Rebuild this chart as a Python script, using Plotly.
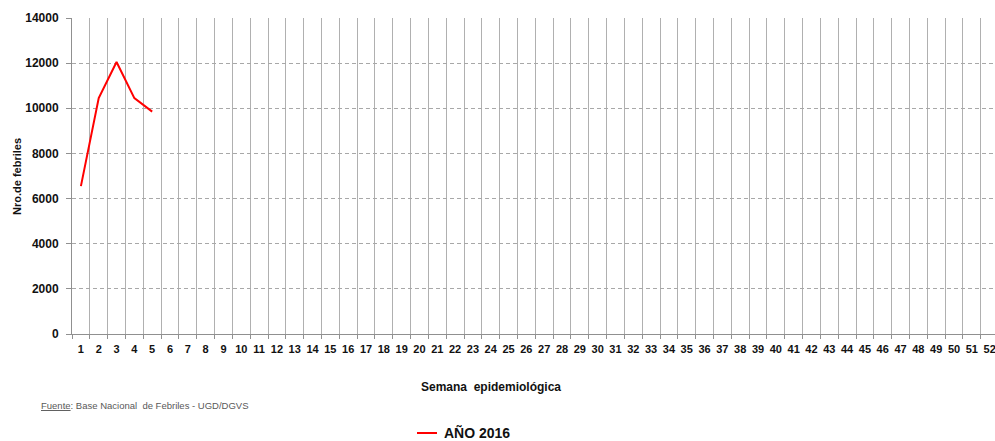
import plotly.graph_objects as go

# Semanas epidemiológicas 1..52 y casos febriles notificados (año 2016)
semanas = [str(i) for i in range(1, 53)]
semanas_con_dato = ["1", "2", "3", "4", "5"]
febriles_2016 = [6550, 10450, 12050, 10450, 9850]
y_ticks = [0, 2000, 4000, 6000, 8000, 10000, 12000, 14000]

W, H = 995, 441
L, R, T, B = 72, 0, 18, 107
pw, ph = W - L - R, H - T - B


def px_x(p):
    return (p - L) / pw


def px_y(p):
    return (H - B - p) / ph


fig = go.Figure()
fig.add_trace(go.Scatter(
    x=semanas_con_dato, y=febriles_2016, mode="lines",
    line=dict(color="#ff0000", width=2), name="AÑO 2016",
    showlegend=False,
))

fig.update_layout(
    width=W, height=H,
    margin=dict(l=L, r=R, t=T, b=B),
    paper_bgcolor="white", plot_bgcolor="white",
    font=dict(family="Liberation Sans, Arial, sans-serif", color="#1a1a1a"),
    xaxis=dict(
        type="category", categoryorder="array", categoryarray=semanas,
        range=[-0.5, 51.3], tickson="boundaries", tickangle=0,
        showgrid=True, gridcolor="#b0b0b0", gridwidth=1,
        showline=True, linecolor="#909090", linewidth=1,
        ticks="outside", ticklen=4, tickcolor="#909090",
        ticklabelstandoff=5,
        tickfont=dict(size=11, color="#111111", weight="bold"),
        zeroline=False,
    ),
    yaxis=dict(
        range=[0, 14000], tickvals=y_ticks, ticktext=[str(v) for v in y_ticks],
        showgrid=True, gridcolor="#a8a8a8", gridwidth=1, griddash="4px,3px",
        showline=True, linecolor="#909090", linewidth=1,
        ticks="outside", ticklen=5, tickcolor="#909090",
        ticklabelstandoff=5,
        tickfont=dict(size=12, color="#111111", weight="bold"),
        zeroline=False,
    ),
)

# Títulos de ejes, fuente y leyenda
fig.add_annotation(
    text="<b>Nro.de febriles</b>", textangle=-90, showarrow=False,
    xref="paper", yref="paper", x=px_x(17), y=px_y(177),
    xanchor="center", yanchor="middle", font=dict(size=11, color="#111111"),
)
fig.add_annotation(
    text="<b>Semana  epidemiológica</b>", showarrow=False,
    xref="paper", yref="paper", x=px_x(491), y=px_y(387),
    xanchor="center", yanchor="middle", font=dict(size=12, color="#111111"),
)
fig.add_annotation(
    text="<u>Fuente</u>: Base Nacional  de Febriles - UGD/DGVS", showarrow=False,
    xref="paper", yref="paper", x=px_x(39), y=px_y(405),
    xanchor="left", yanchor="middle",
    font=dict(size=9.5, color="#595959"),
)
fig.add_shape(
    type="line", xref="paper", yref="paper",
    x0=px_x(417), x1=px_x(437), y0=px_y(433), y1=px_y(433),
    line=dict(color="#ff0000", width=2),
)
fig.add_annotation(
    text="<b>AÑO 2016</b>", showarrow=False,
    xref="paper", yref="paper", x=px_x(442), y=px_y(433),
    xanchor="left", yanchor="middle", font=dict(size=14, color="#111111"),
)

fig.write_html("out.html")
